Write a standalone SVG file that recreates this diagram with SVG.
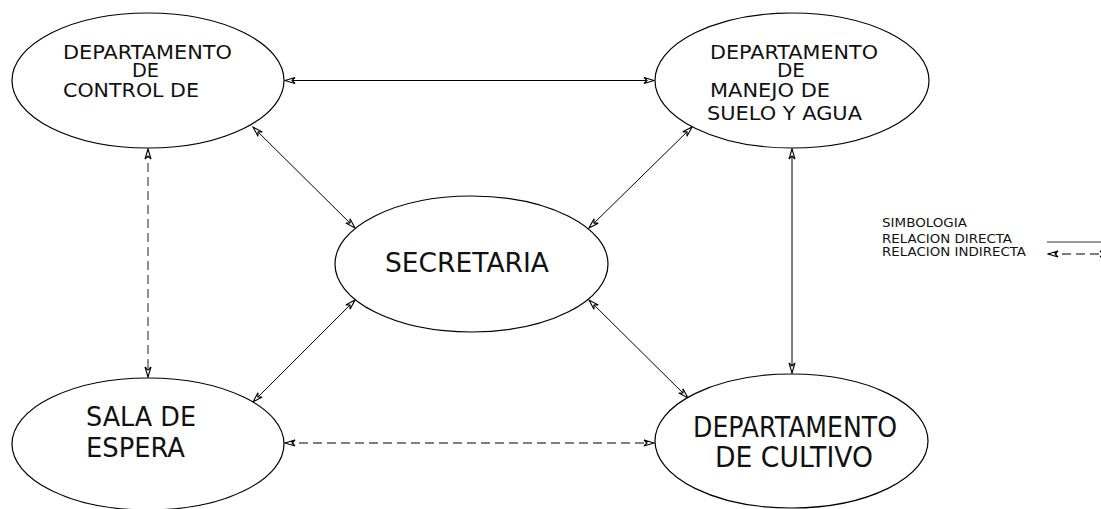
<svg xmlns="http://www.w3.org/2000/svg" width="1101" height="509" viewBox="0 0 1101 509">
<style>
  .node ellipse { fill: #ffffff; stroke: #000000; stroke-width: 1.2; }
  .t { font-family: "DejaVu Sans", Verdana, sans-serif; fill: #111111; }
  .s { font-size: 20px; }
  .m { font-size: 27px; }
  .l { font-size: 29px; }
  .leg { font-size: 12px; }
  .solid { stroke: #000000; stroke-width: 1; fill: none; marker-start: url(#arr); marker-end: url(#arr); }
  .dash { stroke: #555555; stroke-width: 1.3; stroke-dasharray: 9 5; fill: none; marker-start: url(#arr); marker-end: url(#arr); }
</style>
<defs>
  <marker id="arr" viewBox="0 0 12 10" refX="11" refY="5" markerWidth="12" markerHeight="10" markerUnits="userSpaceOnUse" orient="auto-start-reverse">
    <path d="M11,5 L1,2 L4,5 L1,8 Z" fill="#ffffff" stroke="#000000" stroke-width="1.1"/>
  </marker>
</defs>
<rect width="1101" height="509" fill="#ffffff"/>
<g id="connectors">
  <line class="solid" x1="285" y1="80.5" x2="654" y2="80.5"/>
  <line class="solid" x1="253" y1="127" x2="355" y2="228"/>
  <line class="solid" x1="692" y1="127" x2="589" y2="228"/>
  <line class="solid" x1="355" y1="300" x2="253" y2="402"/>
  <line class="solid" x1="589" y1="300" x2="688" y2="398"/>
  <line class="solid" x1="792" y1="149" x2="792" y2="373"/>
  <line class="dash" x1="148" y1="149" x2="148" y2="377"/>
  <line class="dash" x1="285" y1="443" x2="654" y2="443"/>
</g>
<g id="n-control" class="node">
  <ellipse cx="148" cy="80.5" rx="136" ry="67.5"/>
  <text class="t s" x="63" y="59" textLength="169" lengthAdjust="spacingAndGlyphs">DEPARTAMENTO</text>
  <text class="t s" x="132" y="77" textLength="27" lengthAdjust="spacingAndGlyphs">DE</text>
  <text class="t s" x="63" y="97" textLength="136" lengthAdjust="spacingAndGlyphs">CONTROL DE</text>
</g>
<g id="n-suelo" class="node">
  <ellipse cx="792" cy="80.5" rx="137" ry="67.5"/>
  <text class="t s" x="710" y="59" textLength="168" lengthAdjust="spacingAndGlyphs">DEPARTAMENTO</text>
  <text class="t s" x="777" y="77" textLength="28" lengthAdjust="spacingAndGlyphs">DE</text>
  <text class="t s" x="710" y="97" textLength="120" lengthAdjust="spacingAndGlyphs">MANEJO DE</text>
  <text class="t s" x="707" y="120" textLength="155" lengthAdjust="spacingAndGlyphs">SUELO Y AGUA</text>
</g>
<g id="n-secretaria" class="node">
  <ellipse cx="471.5" cy="264" rx="136.5" ry="68"/>
  <text class="t m" x="385" y="272" textLength="164" lengthAdjust="spacingAndGlyphs">SECRETARIA</text>
</g>
<g id="n-sala" class="node">
  <ellipse cx="148" cy="444" rx="136" ry="66"/>
  <text class="t m" x="86" y="426" textLength="110" lengthAdjust="spacingAndGlyphs">SALA DE</text>
  <text class="t m" x="86" y="457" textLength="99" lengthAdjust="spacingAndGlyphs">ESPERA</text>
</g>
<g id="n-cultivo" class="node">
  <ellipse cx="791.5" cy="441" rx="136.5" ry="67"/>
  <text class="t l" x="693" y="437" textLength="204" lengthAdjust="spacingAndGlyphs">DEPARTAMENTO</text>
  <text class="t l" x="715" y="467" textLength="158" lengthAdjust="spacingAndGlyphs">DE CULTIVO</text>
</g>
<g id="legend">
  <text class="t leg" x="882" y="227" textLength="85" lengthAdjust="spacingAndGlyphs">SIMBOLOGIA</text>
  <text class="t leg" x="882" y="243" textLength="130" lengthAdjust="spacingAndGlyphs">RELACION DIRECTA</text>
  <text class="t leg" x="882" y="256" textLength="144" lengthAdjust="spacingAndGlyphs">RELACION INDIRECTA</text>
  <line x1="1047" y1="242" x2="1101" y2="242" stroke="#333333" stroke-width="1"/>
  <line class="dash" x1="1048" y1="254" x2="1110" y2="254" stroke="#000000"/>
</g>
</svg>
